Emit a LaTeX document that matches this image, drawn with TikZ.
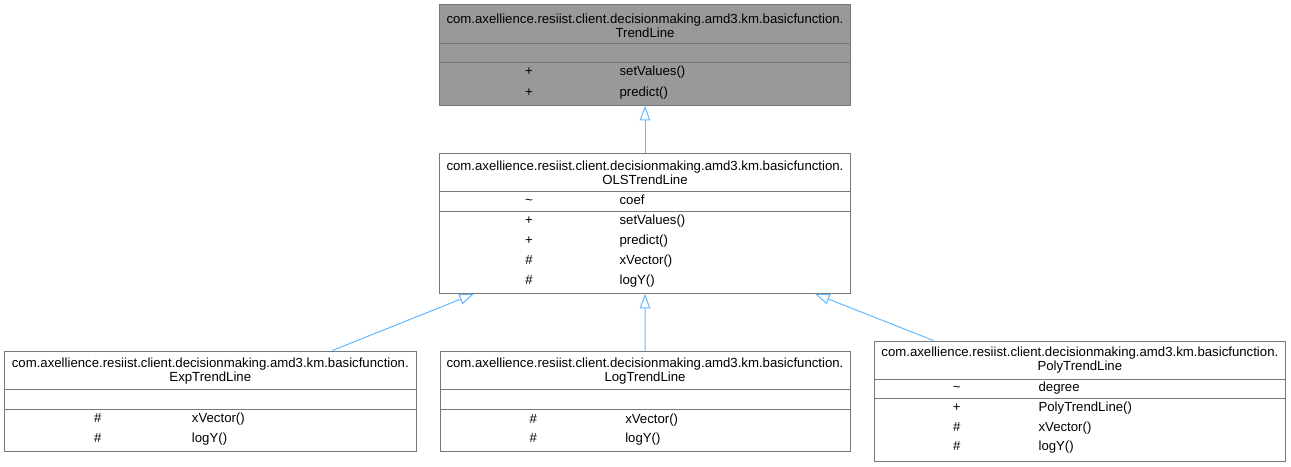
\documentclass[tikz,border=0pt]{standalone}
\usepackage{fontspec}
\setmainfont{Liberation Sans}
\usetikzlibrary{arrows.meta,fit,calc}
\definecolor{edgeblue}{RGB}{99,184,255}
\definecolor{basegray}{RGB}{153,153,153}
\definecolor{linegray}{RGB}{120,120,120}
\tikzstyle{cls}=[rectangle,draw=linegray,line width=0.75pt,fill=white,inner sep=0pt]
\tikzstyle{basecls}=[cls,fill=basegray]
\tikzstyle{sep}=[draw=linegray,line width=0.75pt]
\tikzstyle{txt}=[inner sep=0pt,font=\fontsize{9.9}{10.5}\selectfont]
\tikzstyle{title}=[txt,align=center]
\tikzstyle{vis}=[txt,anchor=mid]
\tikzstyle{mem}=[txt,anchor=mid west]
\tikzstyle{inherit}=[-{Triangle[open,length=11pt,width=8pt]},edgeblue,line width=0.75pt]

\begin{document}
\begin{tikzpicture}[x=0.75pt,y=-0.75pt]
  \useasboundingbox (0,0) rectangle (1291,467);

  % TrendLine
  \node[basecls,fit={(439.3,4.7) (850.7,105.3)}] (TL) {};
  \draw[sep] (TL.west |- 0,43.3) -- (TL.east |- 0,43.3);
  \draw[sep] (TL.west |- 0,62.7) -- (TL.east |- 0,62.7);
  \node[title] (TLt) at (645,25.3) {com.axellience.resiist.client.decisionmaking.amd3.km.basicfunction.\\TrendLine};
  \node[vis] (TLv1) at (529,72.3) {+}; \node[mem] (TLm1) at (619.3,72.3) {setValues()};
  \node[vis] (TLv2) at (529,93.3) {+}; \node[mem] (TLm2) at (619.3,93.3) {predict()};

  % OLSTrendLine
  \node[cls,fit={(439.3,153.3) (850.7,293.3)}] (OLS) {};
  \draw[sep] (OLS.west |- 0,191.7) -- (OLS.east |- 0,191.7);
  \draw[sep] (OLS.west |- 0,211) -- (OLS.east |- 0,211);
  \node[title] (OLSt) at (645,173) {com.axellience.resiist.client.decisionmaking.amd3.km.basicfunction.\\OLSTrendLine};
  \node[vis] (OLSa1) at (529,201) {\textasciitilde}; \node[mem] (OLSb1) at (619.3,201) {coef};
  \node[vis] (OLSv1) at (529,221) {+}; \node[mem] (OLSm1) at (619.3,221) {setValues()};
  \node[vis] (OLSv2) at (529,241) {+}; \node[mem] (OLSm2) at (619.3,241) {predict()};
  \node[vis] (OLSv3) at (529,261) {\#}; \node[mem] (OLSm3) at (619.3,261) {xVector()};
  \node[vis] (OLSv4) at (529,281) {\#}; \node[mem] (OLSm4) at (619.3,281) {logY()};

  % ExpTrendLine
  \node[cls,fit={(4.7,351) (416,451.3)}] (EXP) {};
  \draw[sep] (EXP.west |- 0,389.3) -- (EXP.east |- 0,389.3);
  \draw[sep] (EXP.west |- 0,409.3) -- (EXP.east |- 0,409.3);
  \node[title] (EXPt) at (210.3,371.2) {com.axellience.resiist.client.decisionmaking.amd3.km.basicfunction.\\ExpTrendLine};
  \node[vis] (EXPv1) at (97.7,419) {\#}; \node[mem] (EXPm1) at (191.7,419) {xVector()};
  \node[vis] (EXPv2) at (97.7,439) {\#}; \node[mem] (EXPm2) at (191.7,439) {logY()};

  % LogTrendLine
  \node[cls,fit={(440,351) (850,451.3)}] (LOG) {};
  \draw[sep] (LOG.west |- 0,389.3) -- (LOG.east |- 0,389.3);
  \draw[sep] (LOG.west |- 0,409.3) -- (LOG.east |- 0,409.3);
  \node[title] (LOGt) at (645,371.2) {com.axellience.resiist.client.decisionmaking.amd3.km.basicfunction.\\LogTrendLine};
  \node[vis] (LOGv1) at (533.3,419.5) {\#}; \node[mem] (LOGm1) at (625,419.5) {xVector()};
  \node[vis] (LOGv2) at (533.3,439) {\#}; \node[mem] (LOGm2) at (625,439) {logY()};

  % PolyTrendLine
  \node[cls,fit={(874.7,341) (1285,461.3)}] (POLY) {};
  \draw[sep] (POLY.west |- 0,379) -- (POLY.east |- 0,379);
  \draw[sep] (POLY.west |- 0,398.3) -- (POLY.east |- 0,398.3);
  \node[title] (POLYt) at (1079.85,360) {com.axellience.resiist.client.decisionmaking.amd3.km.basicfunction.\\PolyTrendLine};
  \node[vis] (POLYa1) at (956.7,388.3) {\textasciitilde}; \node[mem] (POLYb1) at (1038.3,388.3) {degree};
  \node[vis] (POLYv1) at (956.7,408) {+}; \node[mem] (POLYm1) at (1038.3,408) {PolyTrendLine()};
  \node[vis] (POLYv2) at (956.7,427.5) {\#}; \node[mem] (POLYm2) at (1038.3,427.5) {xVector()};
  \node[vis] (POLYv3) at (956.7,447) {\#}; \node[mem] (POLYm3) at (1038.3,447) {logY()};

  % heritage
  \draw[inherit] (OLS.north) -- (TL.south);
  \draw[inherit] (LOG.north) -- (OLS.south);
  \draw[inherit] ($(EXP.north)+(122,0)$) -- ($(OLS.south)+(-171,0)$);
  \draw[inherit] ($(POLY.north)+(-146.5,0)$) -- ($(OLS.south)+(170,0)$);

\end{tikzpicture}
\end{document}
